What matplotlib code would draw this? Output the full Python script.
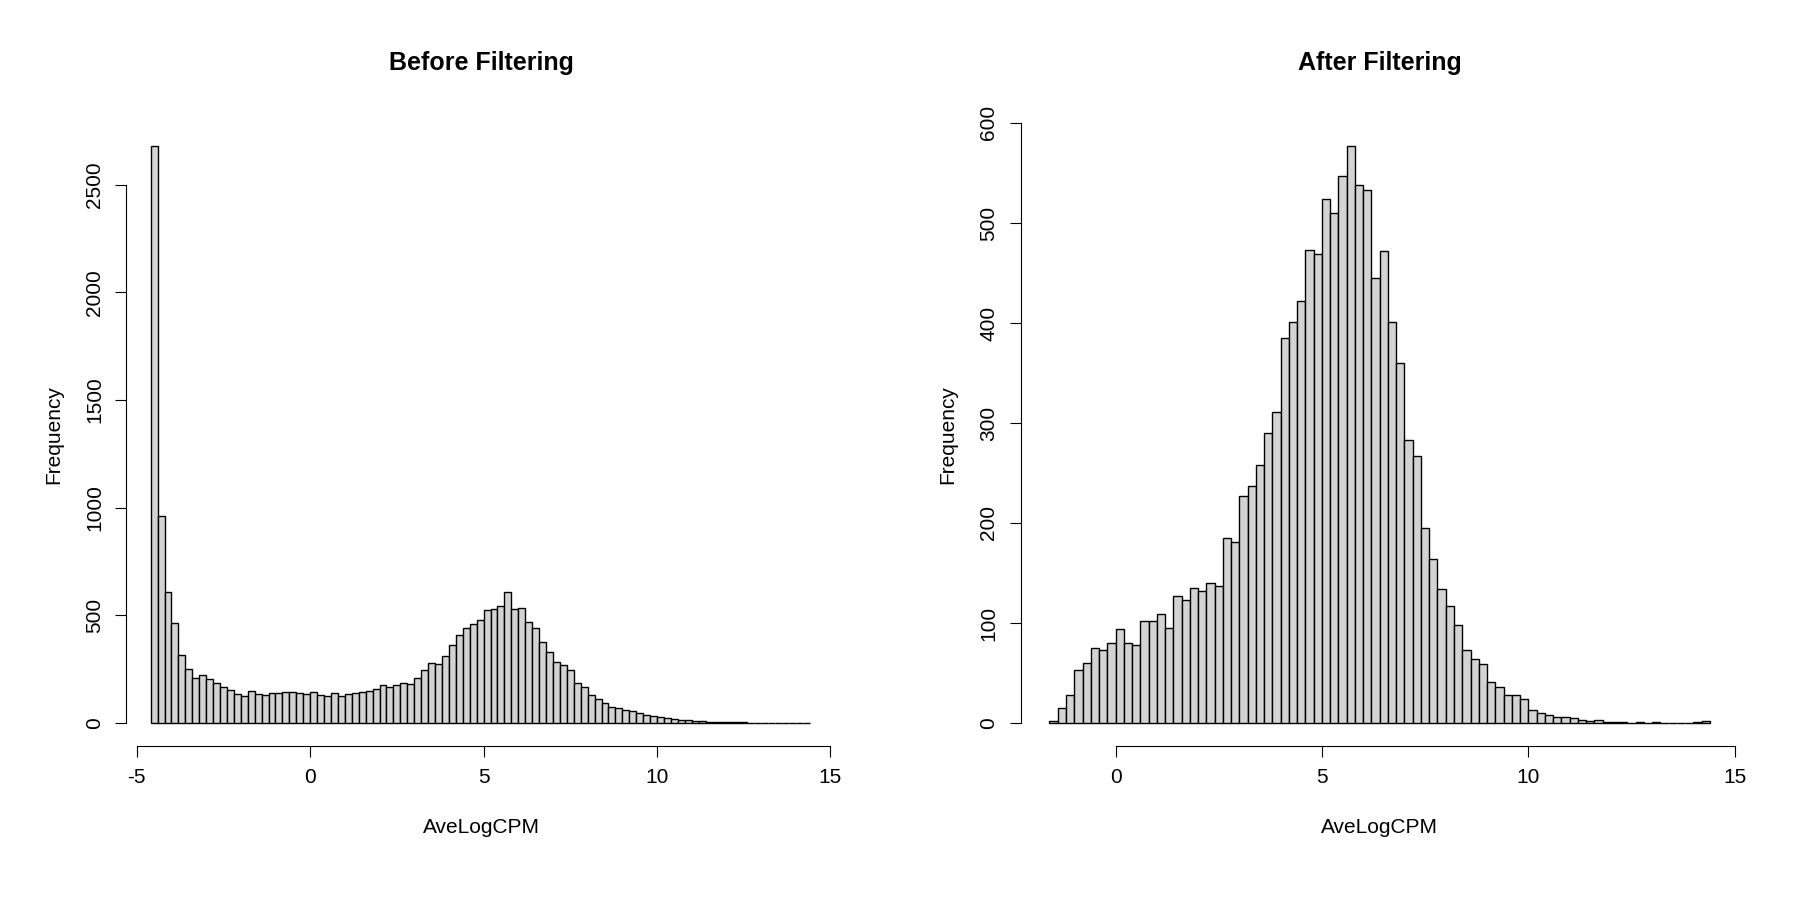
import numpy as np
import matplotlib.pyplot as plt

# bin width 0.2 for both panels
before_start = -4.6
before_counts = [2680, 960, 610, 465, 315, 250, 210, 225, 205, 185, 165, 155, 135, 125, 150, 135,
                 130, 140, 140, 145, 145, 140, 135, 145, 130, 125, 140, 125, 135, 140, 145, 150,
                 160, 175, 165, 175, 185, 180, 210, 245, 280, 275, 310, 360, 410, 440, 460, 480,
                 525, 530, 545, 610,
                 530, 535, 470, 440, 375, 330, 285, 270, 245, 185, 165, 130, 110, 95, 75, 68,
                 62, 55, 45, 38, 32, 27, 22, 18, 15, 12, 10, 8, 7, 6, 5, 4, 3, 3, 2, 2, 2, 1,
                 1, 1, 1, 1, 1]
after_start = -1.6
after_counts = [2, 15, 28, 53, 60, 75, 73, 80, 94, 80, 78, 102, 102, 109, 95, 127, 123, 135, 132,
                140, 137, 185, 181, 227, 237, 258, 290, 311, 385, 401, 422, 473, 469, 524, 510,
                547, 577, 538, 533, 445, 472, 401, 360, 283, 267, 195, 164, 134, 117, 98, 73, 64,
                59, 41, 36, 28, 28, 24, 13, 10, 8, 6, 6, 5, 3, 2, 3, 1, 1, 1, 0, 1, 0, 1, 0, 0,
                0, 0, 1, 2]
width = 0.2

plt.rcParams["font.family"] = "Liberation Sans"
plt.rcParams["axes.unicode_minus"] = False  # R prints a plain hyphen

fig = plt.figure(figsize=(18, 9), dpi=100)


def r_hist(ax, start, counts, title, xticks, yticks, xlim):
    counts = np.asarray(counts, dtype=float)
    edges = start + width * np.arange(len(counts))
    ax.bar(edges, counts, width=width, align="edge", color="#d3d3d3",
           edgecolor="black", linewidth=1.0)
    top = counts.max()
    ax.set_ylim(-0.04 * top, 1.04 * top)
    ax.set_xlim(*xlim)
    for side in ("top", "right"):
        ax.spines[side].set_visible(False)
    ax.spines["left"].set_bounds(yticks[0], yticks[-1])
    ax.spines["bottom"].set_bounds(xticks[0], xticks[-1])
    ax.set_xticks(xticks)
    ax.set_yticks(yticks)
    ax.set_yticklabels([str(t) for t in yticks], rotation=90, va="center")
    ax.tick_params(labelsize=15, length=8, pad=8)
    ax.set_title(title, fontsize=18, fontweight="bold", pad=38)
    ax.set_xlabel("AveLogCPM", fontsize=15, labelpad=22)
    ax.set_ylabel("Frequency", fontsize=15, labelpad=16)


ax1 = fig.add_axes([0.0702, 0.171, 0.395, 0.6925])
r_hist(ax1, before_start, before_counts, "Before Filtering",
       [-5, 0, 5, 10, 15], [0, 500, 1000, 1500, 2000, 2500], (-5.3, 15.2))

ax2 = fig.add_axes([0.567, 0.171, 0.399, 0.6925])
r_hist(ax2, after_start, after_counts, "After Filtering",
       [0, 5, 10, 15], [0, 100, 200, 300, 400, 500, 600], (-2.3, 15.1))

fig.savefig("out.png")
